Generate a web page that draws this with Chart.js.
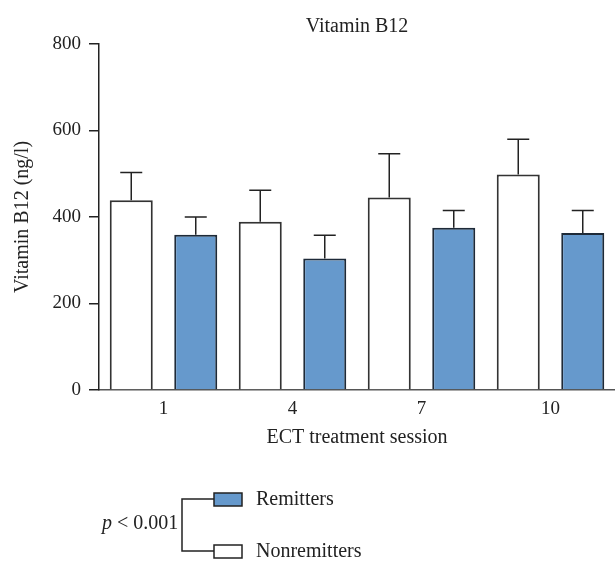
<!DOCTYPE html>
<html>
<head>
<meta charset="utf-8">
<script src="https://cdn.jsdelivr.net/npm/chart.js@4"></script>
<style>
  html, body { margin: 0; padding: 0; background: #fff; }
  #wrap { width: 615px; height: 561px; }
</style>
</head>
<body>
<div id="wrap"><canvas id="chart"></canvas></div>
<script>
const sessions = ["1", "4", "7", "10"];
const nonremitters = [439, 389, 445, 498];
const nonremittersSem = [64, 73, 101, 82];
const remitters = [359, 304, 375, 363];
const remittersSem = [41, 54, 40, 52];
const yTicks = [0, 200, 400, 600, 800];

const serif = "'Liberation Serif', 'DejaVu Serif', serif";
const ink = "#222";
const blue = "#6699cc";

// error bars (upper only) + titles + the bracket legend at the bottom
const extras = {
    id: "extras",
    afterDatasetsDraw(chart) {
        const ctx = chart.ctx;
        const y = chart.scales.y;
        const sems = [nonremittersSem, remittersSem];
        ctx.save();
        ctx.strokeStyle = ink;
        ctx.lineWidth = 1.5;
        chart.data.datasets.forEach((ds, i) => {
            chart.getDatasetMeta(i).data.forEach((bar, j) => {
                const top = y.getPixelForValue(ds.data[j] + sems[i][j]);
                ctx.beginPath();
                ctx.moveTo(bar.x, bar.y);
                ctx.lineTo(bar.x, top);
                ctx.moveTo(bar.x - 11, top);
                ctx.lineTo(bar.x + 11, top);
                ctx.stroke();
            });
        });
        ctx.restore();
    },
    afterDraw(chart) {
        const ctx = chart.ctx;
        const area = chart.chartArea;
        const cx = (area.left + area.right) / 2;
        ctx.save();
        ctx.fillStyle = ink;
        ctx.textBaseline = "middle";
        ctx.textAlign = "center";
        ctx.font = "20px " + serif;
        ctx.fillText("Vitamin B12", cx, 27);
        ctx.fillText("ECT treatment session", cx, 438);

        ctx.save();
        ctx.translate(23, (area.top + area.bottom) / 2);
        ctx.rotate(-Math.PI / 2);
        ctx.fillText("Vitamin B12 (ng/l)", 0, 0);
        ctx.restore();

        // legend
        ctx.strokeStyle = ink;
        ctx.lineWidth = 1.5;
        ctx.beginPath();
        ctx.moveTo(214, 499);
        ctx.lineTo(182, 499);
        ctx.lineTo(182, 551);
        ctx.lineTo(214, 551);
        ctx.stroke();

        ctx.fillStyle = blue;
        ctx.fillRect(214, 493, 28, 13);
        ctx.strokeRect(214, 493, 28, 13);
        ctx.fillStyle = "#fff";
        ctx.fillRect(214, 545, 28, 13);
        ctx.strokeRect(214, 545, 28, 13);

        ctx.fillStyle = ink;
        ctx.textAlign = "left";
        ctx.font = "20px " + serif;
        ctx.fillText("Remitters", 256, 500);
        ctx.fillText("Nonremitters", 256, 552);

        ctx.font = "italic 20px " + serif;
        ctx.fillText("p", 102, 524);
        const pw = ctx.measureText("p").width;
        ctx.font = "20px " + serif;
        ctx.fillText(" < 0.001", 102 + pw, 524);
        ctx.restore();
    }
};

new Chart(document.getElementById("chart"), {
    type: "bar",
    data: {
        labels: sessions,
        datasets: [
            {
                label: "Nonremitters",
                data: nonremitters,
                backgroundColor: "#fff",
                borderColor: "#333",
                borderWidth: 2
            },
            {
                label: "Remitters",
                data: remitters,
                backgroundColor: blue,
                borderColor: "#1e2a38",
                borderWidth: 2
            }
        ]
    },
    options: {
        responsive: true,
        maintainAspectRatio: false,
        animation: false,
        layout: { padding: { top: 44, right: 0, left: 0, bottom: 0 } },
        datasets: { bar: { barPercentage: 0.667, categoryPercentage: 1.0 } },
        plugins: {
            legend: { display: false },
            tooltip: { enabled: false }
        },
        scales: {
            x: {
                grid: { display: false },
                border: { color: "#555", width: 1.5 },
                ticks: { color: ink, font: { family: serif, size: 19 }, padding: 0 },
                afterFit: (scale) => { scale.height = 171; }
            },
            y: {
                min: 0,
                max: 800,
                afterBuildTicks: (scale) => { scale.ticks = yTicks.map(v => ({ value: v })); },
                grid: { drawOnChartArea: false, color: ink, tickLength: 10, lineWidth: 1.5 },
                border: { color: ink, width: 1.5 },
                ticks: { color: ink, font: { family: serif, size: 19 }, padding: 8 },
                afterFit: (scale) => { scale.width = 99; }
            }
        }
    },
    plugins: [extras]
});
</script>
</body>
</html>
